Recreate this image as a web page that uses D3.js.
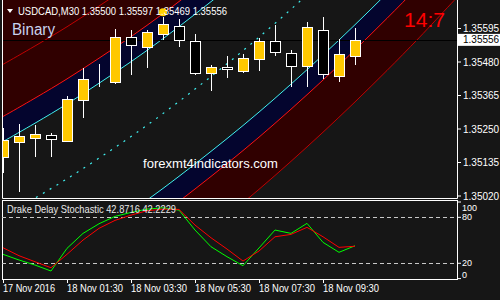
<!DOCTYPE html>
<html>
<head>
<meta charset="utf-8">
<script src="https://cdn.jsdelivr.net/npm/d3@7"></script>
<style>
  html, body { margin: 0; padding: 0; background: #161616; }
  svg { display: block; font-family: "Liberation Sans", Arial, sans-serif; }
</style>
</head>
<body>
<svg id="chart" width="500" height="300"></svg>
<script>
// USDCAD M30 candles, one per 30 minutes
const opens  = [1.35154, 1.35205, 1.35219, 1.35229, 1.35209, 1.35350, 1.35418, 1.35411, 1.35566, 1.35531, 1.35576, 1.35604,
                1.35552, 1.35442, 1.35463, 1.35449, 1.35490, 1.35552, 1.35511, 1.35466, 1.35590, 1.35432, 1.35500]
const highs  = [1.35253, 1.35267, 1.35264, 1.35236, 1.35363, 1.35459, 1.35473, 1.35593, 1.35590, 1.35590, 1.35634, 1.35628,
                1.35576, 1.35470, 1.35501, 1.35507, 1.35562, 1.35607, 1.35521, 1.35617, 1.35634, 1.35559, 1.35597]
const lows   = [1.35099, 1.35034, 1.35154, 1.35154, 1.35205, 1.35288, 1.35394, 1.35404, 1.35435, 1.35459, 1.35555, 1.35531,
                1.35435, 1.35380, 1.35425, 1.35442, 1.35449, 1.35501, 1.35394, 1.35394, 1.35422, 1.35411, 1.35469]
const closes = [1.35212, 1.35226, 1.35233, 1.35216, 1.35353, 1.35422, 1.35418, 1.35566, 1.35538, 1.35583, 1.35610, 1.35556,
                1.35442, 1.35463, 1.35456, 1.35494, 1.35552, 1.35514, 1.35466, 1.35600, 1.35439, 1.35507, 1.35556]

// regression channel: centre line sampled at bar positions, and the band half widths
const centerIdx  = [-1, 0, 2, 4, 6, 8, 10, 12, 14, 16, 18, 20, 22, 24, 26, 28, 29]
const centerLine = [1.34921, 1.34950, 1.35013, 1.35079, 1.35150, 1.35224, 1.35303, 1.35387, 1.35474,
                    1.35565, 1.35661, 1.35761, 1.35865, 1.35973, 1.36085, 1.36202, 1.36261]
const bandOffsets = [0.00257, 0.00343, 0.00522]

const priceTicks = [1.35020, 1.35135, 1.35250, 1.35365, 1.35480, 1.35595]
const timeTickIdx = [0, 4, 8, 12, 16, 20]
const timeLabels = ['17 Nov 2016', '18 Nov 01:30', '18 Nov 03:30', '18 Nov 05:30', '18 Nov 07:30', '18 Nov 09:30']

// Drake Delay Stochastic
const stochMain   = [31.7, 24.3, 17.7, 9.9, 39.5, 59.0, 71.6, 81.2, 86.4, 90.7, 92.4, 89.4,
                     63.4, 41.6, 28.6, 16.8, 40.0, 63.4, 59.0, 72.1, 47.3, 34.3, 42.8716]
const stochSignal = [40.3, 29.9, 22.0, 14.2, 31.7, 50.3, 65.6, 76.0, 82.9, 88.5, 90.7, 90.3,
                     69.9, 53.3, 38.6, 22.9, 36.0, 54.6, 57.7, 66.9, 54.6, 40.8, 42.2229]
const stochLevels = [20, 80]
const stochAxis = [100, 80, 20, 0]

const svg = d3.select('#chart')
const main = { left: 2, right: 457, top: 0, bottom: 198 }
const sub = { top: 200, bottom: 279 }
const last = closes.length - 1
const fmt = d3.format('.5f')

svg.append('rect').attr('width', 500).attr('height', 300).attr('fill', '#161616')

const x = d3.scaleLinear().domain([0, 22]).range([3, 355])
const y = d3.scaleLinear().domain([1.35020, 1.35595]).range([196, 28.5])
const ys = d3.scaleLinear().domain([0, 100]).range([278.6, 202])

svg.append('clipPath').attr('id', 'clip-main').append('rect')
  .attr('x', main.left).attr('y', main.top)
  .attr('width', main.right - main.left).attr('height', main.bottom - main.top)
svg.append('clipPath').attr('id', 'clip-sub').append('rect')
  .attr('x', main.left).attr('y', sub.top)
  .attr('width', main.right - main.left).attr('height', sub.bottom - sub.top)

const g = svg.append('g').attr('clip-path', 'url(#clip-main)')

// channel fills and lines
let band = centerIdx.map((d, i) => ({ i: d, c: centerLine[i] }))
let areaOf = (y0, y1) => d3.area().x(d => x(d.i)).y0(y0).y1(y1).curve(d3.curveNatural)
let lineOf = fy => d3.line().x(d => x(d.i)).y(fy).curve(d3.curveNatural)

g.append('path').datum(band).attr('fill', '#300000')
  .attr('d', areaOf(d => y(d.c + bandOffsets[1]), main.top))
g.append('path').datum(band).attr('fill', '#300000')
  .attr('d', areaOf(d => y(d.c - bandOffsets[1]), d => y(d.c - bandOffsets[2])))
g.append('path').datum(band).attr('fill', '#04052e')
  .attr('d', areaOf(d => y(d.c + bandOffsets[0]), d => y(d.c + bandOffsets[1])))
g.append('path').datum(band).attr('fill', '#04052e')
  .attr('d', areaOf(d => y(d.c - bandOffsets[0]), d => y(d.c - bandOffsets[1])))

const bandLines = [
  { k: 2, color: '#c00000' }, { k: 1, color: '#ff1010' }, { k: 0, color: '#40f0f0' }
]
bandLines.forEach(b => {
  ;[1, -1].forEach(s => {
    g.append('path').datum(band)
      .attr('fill', 'none').attr('stroke', b.color).attr('stroke-width', 1)
      .attr('d', lineOf(d => y(d.c + s * bandOffsets[b.k])))
  })
})
g.append('path').datum(band)
  .attr('fill', 'none').attr('stroke', '#40f0f0').attr('stroke-width', 1.2)
  .attr('stroke-dasharray', '2,6')
  .attr('d', lineOf(d => y(d.c)))

// current price line
g.append('line')
  .attr('x1', main.left).attr('x2', main.right)
  .attr('y1', Math.round(y(closes[last])) + 0.5).attr('y2', Math.round(y(closes[last])) + 0.5)
  .attr('stroke', '#000').attr('stroke-width', 1)

// candles
let candles = g.selectAll('.candle')
  .data(opens.map((o, i) => ({ i, o, h: highs[i], l: lows[i], c: closes[i] })))
  .enter().append('g').attr('class', 'candle').attr('shape-rendering', 'crispEdges')

candles.append('line')
  .attr('x1', d => x(d.i) + 0.5).attr('x2', d => x(d.i) + 0.5)
  .attr('y1', d => y(d.h)).attr('y2', d => y(d.l))
  .attr('stroke', '#fff').attr('stroke-width', 1)

candles.append('rect')
  .attr('x', d => x(d.i) - 4.5)
  .attr('width', 10)
  .attr('y', d => Math.round(y(Math.max(d.o, d.c))) + 0.5)
  .attr('height', d => Math.max(0, Math.round(Math.abs(y(d.o) - y(d.c)))))
  .attr('fill', d => d.c >= d.o ? '#ffc800' : '#000')
  .attr('stroke', '#fff').attr('stroke-width', 1.5)

// signal dot above candle 10
g.append('circle')
  .attr('cx', x(10)).attr('cy', y(highs[10]) - 5).attr('r', 4)
  .attr('fill', '#ffd000')

// texts on the main chart
svg.append('path').attr('d', 'M7,9 L13,9 L10,13 Z').attr('fill', '#fff')
svg.append('text')
  .attr('x', 18).attr('y', 15).attr('fill', '#fff').attr('font-size', 11)
  .attr('textLength', 209).attr('lengthAdjust', 'spacingAndGlyphs')
  .text(`USDCAD,M30  ${fmt(opens[last])} ${fmt(highs[last])} ${fmt(lows[last])} ${fmt(closes[last])}`)
svg.append('text')
  .attr('x', 12).attr('y', 35).attr('fill', '#c9d3ee').attr('font-size', 16)
  .attr('textLength', 43).attr('lengthAdjust', 'spacingAndGlyphs')
  .text('Binary')
svg.append('text')
  .attr('x', 404).attr('y', 27).attr('fill', '#ff0000').attr('font-size', 21)
  .attr('textLength', 41).attr('lengthAdjust', 'spacingAndGlyphs')
  .text('14:7')
svg.append('text')
  .attr('x', 143).attr('y', 168).attr('fill', '#fff').attr('font-size', 13)
  .attr('textLength', 135).attr('lengthAdjust', 'spacingAndGlyphs')
  .text('forexmt4indicators.com')

// price axis
let pAxis = svg.append('g')
priceTicks.forEach(p => {
  pAxis.append('line').attr('x1', main.right).attr('x2', main.right + 4)
    .attr('y1', y(p)).attr('y2', y(p)).attr('stroke', '#fff')
  pAxis.append('text').attr('x', 463).attr('y', y(p) + 3.5)
    .attr('fill', '#fff').attr('font-size', 10).text(fmt(p))
})
pAxis.append('rect')
  .attr('x', 458).attr('y', y(closes[last]) - 6).attr('width', 42).attr('height', 12)
  .attr('fill', '#fff')
pAxis.append('text').attr('x', 463).attr('y', y(closes[last]) + 3.5)
  .attr('fill', '#000').attr('font-size', 10).text(fmt(closes[last]))

// frames
svg.append('path')
  .attr('d', `M${main.left + 0.5},${main.top} V${main.bottom + 0.5} H${main.right + 0.5} V${main.top}`)
  .attr('fill', 'none').attr('stroke', '#fff').attr('stroke-width', 1)
svg.append('rect')
  .attr('x', main.left + 0.5).attr('y', sub.top + 0.5)
  .attr('width', main.right - main.left).attr('height', sub.bottom - sub.top)
  .attr('fill', 'none').attr('stroke', '#fff').attr('stroke-width', 1)

// stochastic sub window
let s = svg.append('g').attr('clip-path', 'url(#clip-sub)')
stochLevels.forEach(v => {
  s.append('line').attr('x1', main.left).attr('x2', main.right)
    .attr('y1', Math.round(ys(v)) + 0.5).attr('y2', Math.round(ys(v)) + 0.5)
    .attr('stroke', '#c8c8c8').attr('stroke-dasharray', '4,3')
})
let stochLine = d3.line().x((d, i) => x(i)).y(d => ys(d))
s.append('path').datum(stochMain).attr('fill', 'none')
  .attr('stroke', '#00ff00').attr('stroke-width', 1).attr('d', stochLine)
s.append('path').datum(stochSignal).attr('fill', 'none')
  .attr('stroke', '#ff0000').attr('stroke-width', 1).attr('d', stochLine)

svg.append('text').attr('x', 7).attr('y', 213).attr('fill', '#e8e8e8').attr('font-size', 10.5)
  .attr('textLength', 169).attr('lengthAdjust', 'spacingAndGlyphs')
  .text(`Drake Delay Stochastic ${d3.format('.4f')(stochMain[last])} ${d3.format('.4f')(stochSignal[last])}`)

stochAxis.forEach(v => {
  let ty = Math.max(sub.top + 10.5, Math.min(sub.bottom - 1.5, ys(v) + 3))
  svg.append('line').attr('x1', main.right).attr('x2', main.right + 4)
    .attr('y1', ys(v)).attr('y2', ys(v)).attr('stroke', '#fff')
  svg.append('text').attr('x', 462).attr('y', ty)
    .attr('fill', '#fff').attr('font-size', 9).text(v)
})

// time axis
timeTickIdx.forEach((idx, k) => {
  svg.append('line').attr('x1', x(idx) + 0.5).attr('x2', x(idx) + 0.5)
    .attr('y1', sub.bottom).attr('y2', sub.bottom + 4).attr('stroke', '#fff')
  svg.append('text').attr('x', x(idx)).attr('y', 291.5)
    .attr('fill', '#fff').attr('font-size', 10.5)
    .attr('textLength', k === 0 ? 52 : 56).attr('lengthAdjust', 'spacingAndGlyphs')
    .text(timeLabels[k])
})
</script>
</body>
</html>
